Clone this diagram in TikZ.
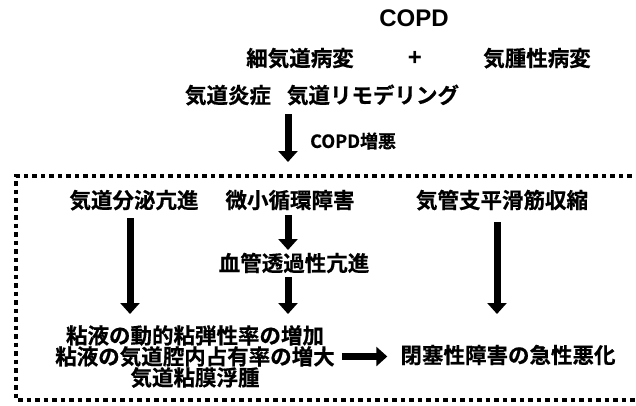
\documentclass[tikz,border=0pt]{standalone}
\usepackage{fontspec}
\setmainfont{Noto Sans CJK JP}[BoldFont={Noto Sans CJK JP Bold},BoldFeatures={FakeBold=0.6}]
\newfontfamily\latinbold{Liberation Sans Bold}
\usetikzlibrary{arrows.meta}
\begin{document}
\begin{tikzpicture}[x=1pt,y=-1pt,
  lbl/.style={inner sep=0pt,font=\fontsize{21.5}{21}\selectfont\bfseries,text height=19pt,text depth=2.6pt},
  multilbl/.style={inner sep=0pt,font=\fontsize{21.5}{21}\selectfont\bfseries,align=center},
  smalllbl/.style={inner sep=0pt,font=\fontsize{18}{18}\selectfont\bfseries},
  bigarrow/.style={line width=7pt,-{Triangle[width=19pt,length=11pt]}},
  dotline/.style={line width=4.5pt,dash pattern=on 4.5pt off 4pt}]
  \useasboundingbox (0,0) rectangle (636,405);
  \clip (0,0) rectangle (636,405);
  % top part
  \node[font=\latinbold\fontsize{24}{24}\selectfont] (copd) at (414,18) {COPD};
  \node[lbl] (small) at (300,58) {細気道病変};
  \node[font=\latinbold\fontsize{24}{24}\selectfont] (plus) at (415,58) {+};
  \node[lbl] (emph) at (537,58) {気腫性病変};
  \node[lbl] (inflam) at (228,95) {気道炎症};
  \node[lbl] (remodel) at (373,95) {気道リモデリング};
  \coordinate (ex0) at (288,114);
  \coordinate (ex1) at (288,162);
  \draw[bigarrow] (ex0) -- (ex1);
  \node[smalllbl,anchor=west] (exlbl) at (310,141) {COPD増悪};
  % dotted frame
  \draw[dotline] (640,176) -- (16,176) -- (16,400) -- (640,400);
  \node[lbl] (secr) at (134,200) {気道分泌亢進};
  \node[lbl] (micro) at (290,200) {微小循環障害};
  \node[lbl] (smooth) at (502,200) {気管支平滑筋収縮};
  \node[lbl] (vasc) at (294,263) {血管透過性亢進};
  \node[multilbl,anchor=north] (mucus) at (195,325) {粘液の動的粘弾性率の増加\\粘液の気道腔内占有率の増大\\気道粘膜浮腫};
  \node[lbl] (acute) at (508,355) {閉塞性障害の急性悪化};
  \coordinate (s1) at ([xshift=-4pt]secr.south);
  \coordinate (s2) at ([xshift=-2pt]micro.south);
  \coordinate (s3) at ([xshift=-6pt]vasc.south);
  \coordinate (s4) at ([xshift=-5pt]smooth.south);
  \draw[bigarrow,shorten <=7pt,shorten >=11pt] (s1) -- (s1 |- mucus.north);
  \draw[bigarrow,shorten <=4pt,shorten >=2pt] (s2) -- (s2 |- vasc.north);
  \draw[bigarrow,shorten <=3pt,shorten >=11pt] (s3) -- (s3 |- mucus.north);
  \draw[bigarrow,shorten <=11pt,shorten >=11pt] (s4) -- (s4 |- mucus.north);
  \draw[bigarrow,shorten <=7pt,shorten >=13pt] (mucus.east) -- (mucus.east -| acute.west);
\end{tikzpicture}
\end{document}
